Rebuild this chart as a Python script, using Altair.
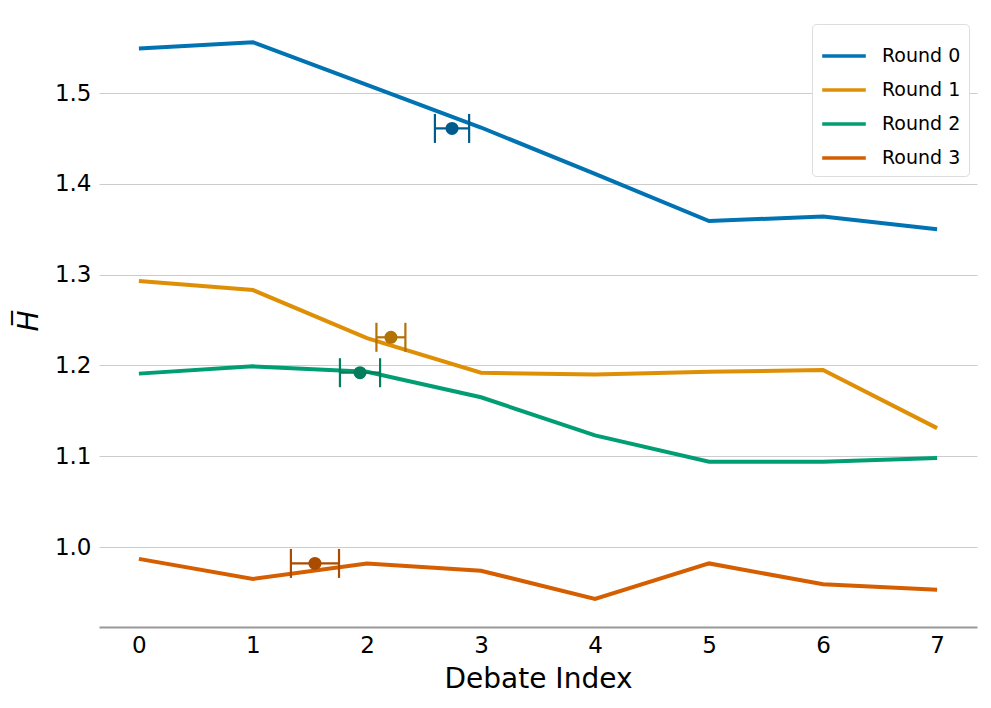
import altair as alt
import pandas as pd

debate_index = [0, 1, 2, 3, 4, 5, 6, 7]
rounds = ["Round 0", "Round 1", "Round 2", "Round 3"]
round0 = [1.549, 1.556, 1.509, 1.462, 1.411, 1.359, 1.364, 1.350]
round1 = [1.293, 1.283, 1.230, 1.192, 1.190, 1.193, 1.195, 1.131]
round2 = [1.191, 1.199, 1.193, 1.165, 1.123, 1.094, 1.094, 1.098]
round3 = [0.987, 0.965, 0.982, 0.974, 0.943, 0.982, 0.959, 0.953]

# mean debate index (x) with horizontal error, mean H (y)
mean_x = [2.746, 2.210, 1.939, 1.544]
x_err = [0.150, 0.127, 0.176, 0.211]
mean_y = [1.461, 1.231, 1.192, 0.982]

line_colors = ["#0173b2", "#de8f05", "#029e73", "#d55e00"]
point_colors = ["#015c8e", "#b27204", "#027e5c", "#aa4b00"]

series = [round0, round1, round2, round3]
rows = []
for r, vals in zip(rounds, series):
    for x, v in zip(debate_index, vals):
        rows.append({"round": r, "x": x, "H": v})
lines_df = pd.DataFrame(rows)

pts_df = pd.DataFrame({
    "round": rounds,
    "mx": mean_x,
    "lo": [m - e for m, e in zip(mean_x, x_err)],
    "hi": [m + e for m, e in zip(mean_x, x_err)],
    "my": mean_y,
    "pc": point_colors,
})

xscale = alt.Scale(domain=[-0.35, 7.35], nice=False, zero=False)
yscale = alt.Scale(domain=[0.912, 1.587], nice=False, zero=False)

lines = alt.Chart(lines_df).mark_line(strokeWidth=4).encode(
    x=alt.X("x:Q", scale=xscale, title="Debate Index",
            axis=alt.Axis(values=debate_index, format="d", grid=False, ticks=False,
                          domainColor="#999999", domainWidth=2, labelFontSize=23,
                          labelPadding=7, titleFontSize=28, titleFontWeight="normal",
                          titlePadding=8, labelColor="black", titleColor="black")),
    y=alt.Y("H:Q", scale=yscale, title="H\u0305",
            axis=alt.Axis(values=[1.0, 1.1, 1.2, 1.3, 1.4, 1.5], format=".1f", grid=True,
                          gridColor="#cccccc", gridWidth=1, domain=False, ticks=False,
                          labelFontSize=23, labelPadding=8, titleFontSize=28,
                          titleFontStyle="italic", titleFontWeight="normal",
                          titlePadding=11, labelColor="black", titleColor="black")),
    color=alt.Color("round:N", scale=alt.Scale(domain=rounds, range=line_colors),
                    legend=alt.Legend(title=None, orient="none", legendX=713, legendY=10,
                                      symbolType="stroke", symbolStrokeWidth=3.5,
                                      symbolSize=1900, symbolOpacity=1,
                                      labelFontSize=19, rowPadding=0,
                                      padding=8, strokeColor="#dddddd", cornerRadius=4,
                                      fillColor="white", labelColor="black",
                                      labelOffset=14)),
)

errs = alt.Chart(pts_df).mark_rule(strokeWidth=2.2, opacity=1).encode(
    x=alt.X("lo:Q", scale=xscale), x2="hi:Q",
    y=alt.Y("my:Q", scale=yscale),
    color=alt.Color("pc:N", scale=None),
)
caps_lo = alt.Chart(pts_df).mark_tick(orient="vertical", size=29, thickness=2.2, opacity=1).encode(
    x=alt.X("lo:Q", scale=xscale), y=alt.Y("my:Q", scale=yscale),
    color=alt.Color("pc:N", scale=None),
)
caps_hi = alt.Chart(pts_df).mark_tick(orient="vertical", size=29, thickness=2.2, opacity=1).encode(
    x=alt.X("hi:Q", scale=xscale), y=alt.Y("my:Q", scale=yscale),
    color=alt.Color("pc:N", scale=None),
)
pts = alt.Chart(pts_df).mark_circle(size=170, opacity=1).encode(
    x=alt.X("mx:Q", scale=xscale), y=alt.Y("my:Q", scale=yscale),
    color=alt.Color("pc:N", scale=None),
)

chart = alt.layer(lines, errs, caps_lo, caps_hi, pts).properties(
    width=878, height=613,
    autosize=alt.AutoSizeParams(type="none"),
    padding={"left": 91, "top": 6, "right": 6, "bottom": 80},
).configure_view(stroke=None).configure_axis(labelFont="DejaVu Sans", titleFont="DejaVu Sans"
).configure_legend(labelFont="DejaVu Sans")

chart.save("out.html", embed_options={"renderer": "svg", "actions": False})
